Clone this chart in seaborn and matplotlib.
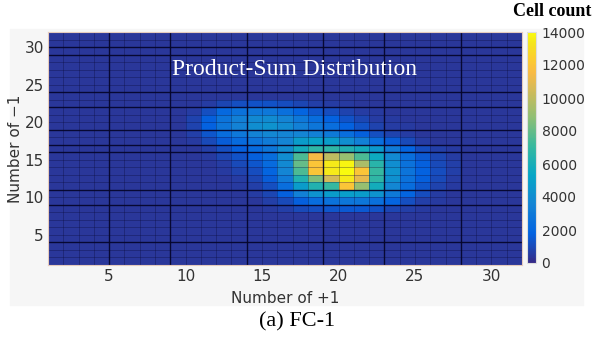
import numpy as np
import pandas as pd
import seaborn as sns
import matplotlib.pyplot as plt
from matplotlib.colors import LinearSegmentedColormap
from matplotlib.patches import Rectangle

# axis values (cell lower edges, 1..31)
plus_vals = np.arange(1, 32)
minus_vals = np.arange(1, 32)
background = 420

# counts for the hot block: columns x=10..28, rows y=22 down to y=8
block_cols = list(range(10, 29))
block_rows = list(range(22, 7, -1))
block_counts = [
    [400, 600, 900, 1200, 1300, 1300, 1100, 900, 700, 600, 500, 400, 400, 400, 400, 400, 400, 400, 400],
    [600, 1200, 2100, 2600, 2900, 2900, 2500, 1900, 1400, 1100, 800, 600, 500, 400, 400, 400, 400, 400, 400],
    [800, 1700, 2700, 3300, 3800, 3900, 3500, 2900, 2300, 1800, 1300, 900, 600, 500, 400, 400, 400, 400, 400],
    [800, 1800, 2800, 3400, 4100, 4300, 3900, 3300, 2800, 2400, 1800, 1300, 800, 600, 500, 400, 400, 400, 400],
    [700, 1400, 2300, 2900, 3400, 3700, 3600, 3600, 3300, 3000, 2400, 1700, 1200, 800, 600, 400, 400, 400, 400],
    [500, 1000, 1600, 2200, 2700, 3100, 3500, 4800, 5100, 4800, 4100, 3300, 2400, 1600, 1000, 600, 400, 400, 400],
    [400, 700, 1200, 1700, 2200, 2800, 4000, 5800, 6800, 6800, 6300, 5800, 4600, 3100, 1900, 1100, 700, 500, 400],
    [400, 500, 900, 1300, 1700, 2300, 4000, 7500, 11500, 10000, 9000, 7500, 5600, 3800, 2400, 1500, 900, 600, 400],
    [400, 400, 600, 1000, 1400, 2200, 3800, 8000, 12000, 13500, 13800, 9500, 6600, 4100, 2600, 1700, 1000, 700, 400],
    [400, 400, 500, 800, 1100, 1900, 3600, 7500, 12000, 13500, 14000, 12000, 7000, 4300, 2700, 1800, 1100, 700, 400],
    [400, 400, 400, 600, 900, 1600, 3100, 6300, 8500, 10500, 13500, 11000, 6800, 4200, 2600, 1700, 1000, 600, 400],
    [400, 400, 400, 500, 700, 1200, 2400, 4800, 6300, 7000, 12000, 9000, 5800, 3700, 2300, 1400, 800, 500, 400],
    [400, 400, 400, 400, 600, 900, 1700, 3300, 4300, 4800, 4900, 4800, 4300, 3000, 1900, 1100, 600, 400, 400],
    [400, 400, 400, 400, 400, 700, 1000, 1700, 2300, 2600, 2800, 2800, 2500, 1900, 1200, 700, 500, 400, 400],
    [400, 400, 400, 400, 400, 500, 700, 1000, 1200, 1400, 1500, 1500, 1300, 900, 700, 500, 400, 400, 400],
]

# darker grid lines as they show up in the picture
dark_x_edges = [5, 9, 14, 19, 23, 28]
dark_y_edges = [4, 9, 11, 16, 17, 19, 22, 24, 29, 30]

# parula-like colormap
parula_pos = [0, 8, 16, 24, 32, 40, 48, 52, 56, 60, 63]
parula_rgb = [
    (0.2081, 0.1663, 0.5292), (0.0117, 0.3875, 0.8820), (0.0793, 0.5200, 0.8312),
    (0.0228, 0.6535, 0.7768), (0.2178, 0.7250, 0.6193), (0.5709, 0.7485, 0.4494),
    (0.8507, 0.7299, 0.3360), (0.9739, 0.7314, 0.2666), (0.9880, 0.8066, 0.1794),
    (0.9589, 0.8949, 0.1132), (0.9763, 0.9831, 0.0538),
]
parula = LinearSegmentedColormap.from_list(
    'parula', [(p / 63, c) for p, c in zip(parula_pos, parula_rgb)])

counts = pd.DataFrame(background, index=minus_vals, columns=plus_vals, dtype=float)
counts.loc[block_rows, block_cols] = np.array(block_counts, dtype=float)

fig = plt.figure(figsize=(5.95, 3.37), dpi=100)
fig.patches.append(Rectangle((10 / 595, 32 / 337), 573 / 595, 276 / 337,
                             transform=fig.transFigure, color='#f6f6f6', zorder=-10))
ax = fig.add_axes([48 / 595, 72 / 337, 474 / 595, 233 / 337])
cax = fig.add_axes([527 / 595, 74 / 337, 9 / 595, 231 / 337])

sns.heatmap(counts, cmap=parula, vmin=0, vmax=14000, ax=ax, cbar_ax=cax,
            xticklabels=False, yticklabels=False)
ax.invert_yaxis()

n = len(plus_vals)
for e in range(1, n):
    ax.axvline(e, color='#0a0a35', lw=0.5, alpha=0.45)
    ax.axhline(e, color='#0a0a35', lw=0.5, alpha=0.45)
for e in dark_x_edges:
    ax.axvline(e - 1, color='#05052a', lw=1.0, alpha=0.9)
for e in dark_y_edges:
    ax.axhline(e - 1, color='#05052a', lw=1.0, alpha=0.9)

ticks = [5, 10, 15, 20, 25, 30]
ax.set_xticks([t - 1 for t in ticks])
ax.set_xticklabels([str(t) for t in ticks], rotation=0)
ax.set_yticks([t - 1 for t in ticks])
ax.set_yticklabels([str(t) for t in ticks], rotation=0)
ax.tick_params(length=0, labelsize=11, colors='#333333', pad=3)
ax.set_xlabel('Number of +1', fontsize=11, color='#333333', labelpad=5)
ax.set_ylabel('Number of \u22121', fontsize=11, color='#333333', labelpad=1)
for s in ax.spines.values():
    s.set_visible(True)
    s.set_color('#e6cbbd')
    s.set_linewidth(0.8)

ax.text(0.52, 0.84, 'Product-Sum Distribution', transform=ax.transAxes,
        ha='center', va='center', color='white', fontsize=17,
        family='Liberation Serif')

cbar = ax.collections[0].colorbar
cbar.set_ticks(range(0, 14001, 2000))
cbar.ax.tick_params(length=0, labelsize=10, colors='#333333', pad=4)
cbar.outline.set_edgecolor('#dddddd')
cbar.outline.set_linewidth(0.8)

fig.text(552 / 595, 1 - 12 / 337, 'Cell count', ha='center', va='center',
         fontsize=13, fontweight='bold', family='Liberation Serif')
fig.text(297 / 595, 1 - 322 / 337, '(a) FC-1', ha='center', va='center',
         fontsize=16, family='Liberation Serif')

fig.savefig('out.png', dpi=100)
